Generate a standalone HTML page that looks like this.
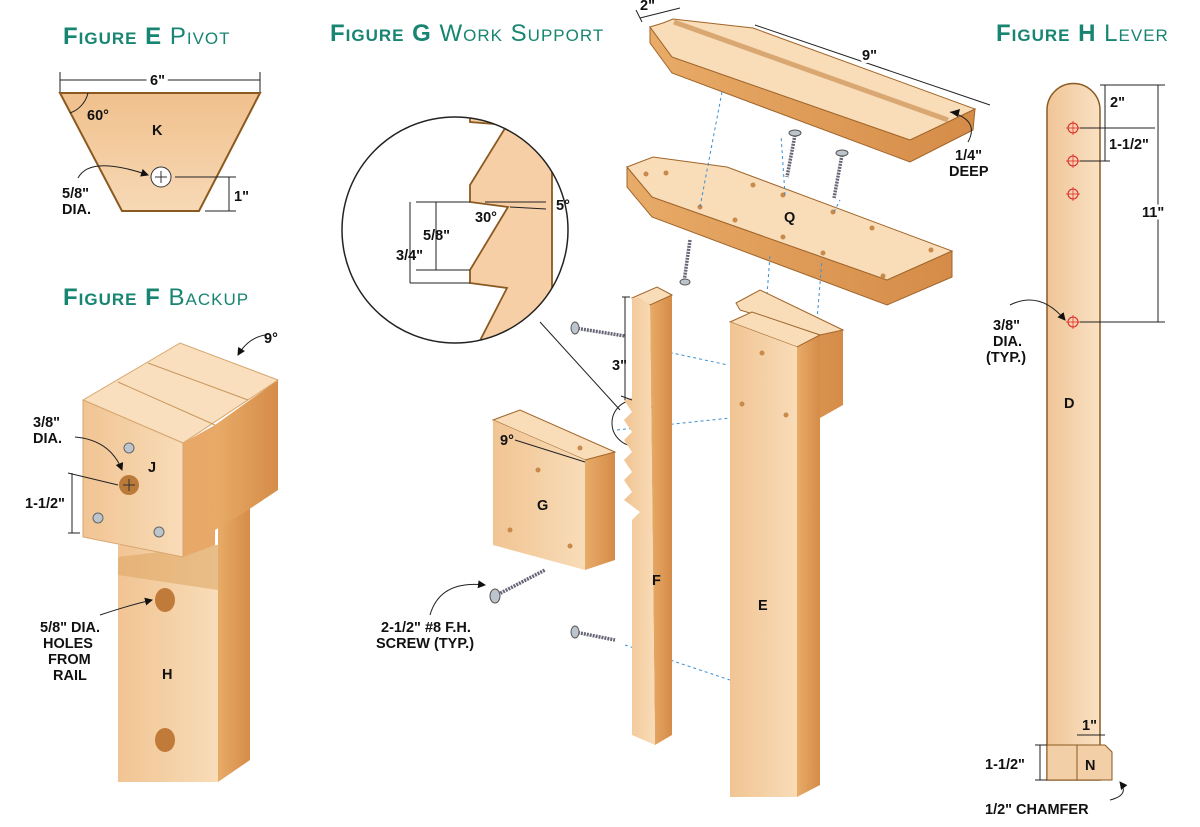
<!DOCTYPE html>
<html><head><meta charset="utf-8"><style>
body{margin:0;background:#fff;}
svg{display:block;font-family:"Liberation Sans",Arial,sans-serif;}
.t{fill:#178572;font-size:24px;font-variant:small-caps;letter-spacing:1px;}
.lb{font-weight:bold;font-size:14.5px;fill:#111;}
.dim{stroke:#222;stroke-width:1;fill:none;}
.bl{stroke:#3a8fd0;stroke-width:1;stroke-dasharray:3,3;fill:none;}
.w{stroke:#a0652a;stroke-width:1;}
</style></head><body>
<svg width="1200" height="827" viewBox="0 0 1200 827">
<defs>
<linearGradient id="fr" x1="0" x2="1"><stop offset="0" stop-color="#f1c493"/><stop offset="1" stop-color="#f8dcb8"/></linearGradient>
<linearGradient id="sd" x1="0" x2="1"><stop offset="0" stop-color="#e8ab68"/><stop offset="1" stop-color="#d58c48"/></linearGradient>
<linearGradient id="lv" x1="0" x2="1"><stop offset="0" stop-color="#f0c597"/><stop offset="1" stop-color="#f9e1c3"/></linearGradient>
<linearGradient id="kk" x1="0" y1="0" x2="0" y2="1"><stop offset="0" stop-color="#f0c08c"/><stop offset="1" stop-color="#f7d9b6"/></linearGradient>
<clipPath id="cc"><circle cx="455" cy="230" r="113"/></clipPath>
<marker id="ar" markerWidth="8" markerHeight="8" refX="7" refY="4" orient="auto"><path d="M0,0 L8,4 L0,8 z" fill="#111"/></marker>
</defs>
<!-- Titles -->
<text x="63" y="44" class="t"><tspan font-weight="bold">Figure E</tspan> Pivot</text>
<text x="63" y="305" class="t"><tspan font-weight="bold">Figure F</tspan> Backup</text>
<text x="330" y="41" class="t"><tspan font-weight="bold">Figure G</tspan> Work Support</text>
<text x="996" y="41" class="t"><tspan font-weight="bold">Figure H</tspan> Lever</text>

<!-- Figure E -->
<line x1="60" y1="80" x2="260" y2="80" class="dim"/><line x1="60" y1="72" x2="60" y2="92" class="dim"/><line x1="260" y1="72" x2="260" y2="92" class="dim"/>
<text x="150" y="85" class="lb" style="paint-order:stroke;stroke:#fff;stroke-width:8">6"</text>
<polygon points="60,93 260,93 199,211 122,211" fill="url(#kk)" stroke="#8a5a20" stroke-width="2"/>
<path d="M88,93 A28,28 0 0 1 70,113" class="dim"/>
<text x="87" y="120" class="lb">60°</text>
<text x="152" y="135" class="lb" font-size="16">K</text>
<circle cx="161" cy="177" r="10" fill="#fff" stroke="#333"/>
<path d="M155,177h12M161,171v12" stroke="#333"/>
<line x1="175" y1="177" x2="236" y2="177" class="dim"/><line x1="205" y1="211" x2="236" y2="211" class="dim"/><line x1="229" y1="177" x2="229" y2="211" class="dim"/>
<text x="234" y="201" class="lb">1"</text>
<path d="M78,178 Q90,155 148,175" class="dim" stroke-width="2" marker-end="url(#ar)"/>
<text x="62" y="198" class="lb">5/8"</text><text x="62" y="214" class="lb">DIA.</text>

<!-- Figure F -->
<polygon points="218,520 250,500 250,760 218,782" fill="url(#sd)"/>
<rect x="118" y="545" width="100" height="237" fill="url(#fr)"/>
<polygon points="118,557 218,545 218,590 118,575" fill="#e0a868" opacity=".6"/>
<ellipse cx="165" cy="600" rx="10" ry="12" fill="#c07a3a"/>
<ellipse cx="165" cy="740" rx="10" ry="12" fill="#c07a3a"/>
<text x="162" y="679" class="lb">H</text>
<polygon points="215,425 278,380 278,490 248,510 215,530" fill="url(#sd)"/>
<polygon points="183,443 215,425 215,545 183,557" fill="#e8a968"/>
<polygon points="83,400 180,343 278,380 183,443" fill="#f9dfbd" stroke="#d8a670"/>
<line x1="118" y1="382" x2="215" y2="425" stroke="#c9955c"/><line x1="148" y1="363" x2="248" y2="400" stroke="#c9955c"/>
<polygon points="83,400 183,443 183,557 83,537" fill="url(#fr)" stroke="#d8a670"/>
<text x="148" y="472" class="lb" font-size="16">J</text>
<circle cx="129" cy="485" r="10" fill="#b97a3a"/><path d="M123,485h12M129,479v12" stroke="#333"/>
<circle cx="129" cy="448" r="5" fill="#bcc4cc" stroke="#666"/><circle cx="98" cy="518" r="5" fill="#bcc4cc" stroke="#666"/><circle cx="159" cy="532" r="5" fill="#bcc4cc" stroke="#666"/>
<path d="M75,437 Q110,440 122,470" class="dim" stroke-width="2" marker-end="url(#ar)"/>
<text x="33" y="427" class="lb">3/8"</text><text x="33" y="443" class="lb">DIA.</text>
<line x1="68" y1="473" x2="118" y2="485" class="dim"/><line x1="68" y1="533" x2="80" y2="533" class="dim"/><line x1="72" y1="473" x2="72" y2="533" class="dim"/>
<text x="25" y="508" class="lb">1-1/2"</text>
<path d="M265,335 Q248,338 238,355" class="dim" stroke-width="2" marker-end="url(#ar)"/>
<text x="264" y="343" class="lb">9°</text>
<path d="M100,615 Q130,605 152,600" class="dim" stroke-width="2" marker-end="url(#ar)"/>
<text x="40" y="632" class="lb">5/8" DIA.</text><text x="43" y="648" class="lb">HOLES</text><text x="48" y="664" class="lb">FROM</text><text x="53" y="680" class="lb">RAIL</text>

<!-- Figure G circle -->
<circle cx="455" cy="230" r="113" fill="#fff"/>
<g clip-path="url(#cc)">
<polygon points="470,100 470,122 507,125 470,185 470,202 508,207 470,270 470,283 507,288 470,360 600,360 600,100" fill="#f6cfa7"/>
<polygon points="552,100 600,100 600,360 552,360" fill="#fff"/>
<path d="M470,100 L470,122 507,125 470,185 470,202 508,207 470,270 470,283 507,288 470,360 M552,100 V360" fill="none" stroke="#8a5a20" stroke-width="1.8"/>
</g>
<circle cx="455" cy="230" r="113" fill="none" stroke="#222" stroke-width="1.5"/>
<line x1="540" y1="322" x2="620" y2="410" class="dim"/>
<circle cx="635" cy="423" r="23" fill="none" stroke="#222"/>
<line x1="416" y1="202" x2="470" y2="202" class="dim"/><line x1="416" y1="270" x2="470" y2="270" class="dim"/><line x1="436" y1="202" x2="436" y2="270" class="dim"/>
<line x1="410" y1="202" x2="410" y2="283" class="dim"/><line x1="410" y1="283" x2="470" y2="283" class="dim"/>
<text x="423" y="240" class="lb">5/8"</text><text x="396" y="260" class="lb">3/4"</text>
<text x="475" y="222" class="lb">30°</text><text x="556" y="210" class="lb">5°</text>
<line x1="485" y1="202" x2="546" y2="202" class="dim"/><line x1="510" y1="207" x2="546" y2="209" class="dim"/>

<!-- top board -->
<polygon points="650,27 672,57 910,140 975,109 973,130 910,162 672,73 650,43" fill="url(#sd)" class="w"/>
<polygon points="650,27 663,23 673,19 753,28 975,109 910,140 672,57" fill="#f9dcb8" class="w"/>
<line x1="674" y1="22" x2="948" y2="120" stroke="#d9a872" stroke-width="5"/>
<line x1="640" y1="18" x2="680" y2="8" class="dim"/><line x1="636" y1="10" x2="642" y2="22" class="dim"/><text x="640" y="10" class="lb">2"</text>
<line x1="755" y1="25" x2="990" y2="105" class="dim"/><text x="862" y="60" class="lb" style="paint-order:stroke;stroke:#fff;stroke-width:6">9"</text>
<path d="M950,112 Q980,120 968,142" class="dim" stroke-width="2"/><path d="M950,112 l10,-3 l-2,8z" fill="#111"/>
<text x="955" y="160" class="lb">1/4"</text><text x="949" y="176" class="lb">DEEP</text>
<!-- Q board -->
<polygon points="627,167 652,197 887,280 952,251 952,277 887,305 652,217 627,187" fill="url(#sd)" class="w"/>
<polygon points="627,167 653,157 727,167 952,251 887,280 652,197" fill="#f9dcb8" class="w"/>
<text x="784" y="222" class="lb" font-size="16">Q</text>
<g fill="#c9894a"><circle cx="666" cy="173" r="2.5"/><circle cx="646" cy="174" r="2.5"/><circle cx="700" cy="207" r="2.5"/><circle cx="753" cy="185" r="2.5"/><circle cx="783" cy="195" r="2.5"/><circle cx="735" cy="220" r="2.5"/><circle cx="783" cy="237" r="2.5"/><circle cx="833" cy="212" r="2.5"/><circle cx="823" cy="253" r="2.5"/><circle cx="872" cy="228" r="2.5"/><circle cx="931" cy="250" r="2.5"/><circle cx="883" cy="276" r="2.5"/></g>
<!-- screws -->
<g stroke="#667" stroke-width="3.5" stroke-dasharray="2,1"><line x1="795" y1="135" x2="787" y2="177"/><line x1="842" y1="155" x2="834" y2="198"/><line x1="690" y1="240" x2="684" y2="282"/><line x1="575" y1="328" x2="625" y2="336"/><line x1="575" y1="632" x2="615" y2="640"/><line x1="495" y1="596" x2="545" y2="570"/></g>
<g fill="#bcc4cc" stroke="#555"><ellipse cx="795" cy="133" rx="6" ry="3"/><ellipse cx="842" cy="153" rx="6" ry="3"/><ellipse cx="685" cy="282" rx="5" ry="3"/><ellipse cx="575" cy="328" rx="4" ry="6"/><ellipse cx="575" cy="632" rx="4" ry="6"/><ellipse cx="495" cy="596" rx="5" ry="7"/></g>
<!-- dashed -->
<path d="M722,92 L700,207 M785,195 L781,135 M834,212 L840,200 M767,295 L770,255 M817,320 L822,260 M658,350 L728,365 M617,430 L787,412 M600,532 L572,545 M625,645 L730,680" class="bl"/>
<!-- E post back block -->
<polygon points="736,303 760,290 843,330 843,405 820,418 820,335" fill="url(#sd)"/>
<polygon points="736,303 760,290 843,330 820,335 740,310" fill="#f9dcb8" class="w"/>
<!-- E post -->
<polygon points="797,347 820,335 820,785 797,797" fill="url(#sd)"/>
<polygon points="730,322 752,312 820,335 797,347" fill="#f9dcb8" class="w"/>
<polygon points="730,322 797,347 797,797 730,797" fill="url(#fr)"/>
<g fill="#c9894a"><circle cx="762" cy="353" r="2.5"/><circle cx="742" cy="404" r="2.5"/><circle cx="786" cy="415" r="2.5"/></g>
<text x="758" y="610" class="lb">E</text>
<!-- F slat -->
<polygon points="650,305 672,295 672,735 655,745" fill="url(#sd)"/>
<polygon points="632,298 657,287 672,295 650,305" fill="#f9dcb8" class="w"/>
<polygon points="640,298 650,305 655,745 632,735 632,520 640,512 624,500 632,492 624,480 632,472 624,460 632,452 624,440 632,432 624,420 632,412 624,400 632,398 632,298" fill="url(#fr)"/>
<text x="652" y="585" class="lb">F</text>
<line x1="630" y1="297" x2="622" y2="297" class="dim"/><line x1="625" y1="297" x2="625" y2="400" class="dim"/><line x1="621" y1="396" x2="632" y2="400" class="dim"/>
<text x="612" y="370" class="lb">3"</text>
<!-- G block -->
<polygon points="585,460 615,452 615,560 585,570" fill="url(#sd)"/>
<polygon points="493,420 520,410 615,452 585,460" fill="#f9dcb8" class="w"/>
<polygon points="493,420 585,460 585,570 493,545" fill="url(#fr)"/>
<g fill="#c9894a"><circle cx="580" cy="448" r="2.5"/><circle cx="538" cy="470" r="2.5"/><circle cx="570" cy="546" r="2.5"/><circle cx="510" cy="530" r="2.5"/></g>
<text x="537" y="510" class="lb">G</text><text x="500" y="445" class="lb">9°</text>
<line x1="515" y1="440" x2="585" y2="462" class="dim"/>
<path d="M430,615 Q440,580 485,585" class="dim" stroke-width="2" marker-end="url(#ar)"/>
<text x="381" y="632" class="lb">2-1/2" #8 F.H.</text><text x="376" y="648" class="lb">SCREW (TYP.)</text>

<!-- Figure H -->
<path d="M1047,780 V110 A26,26 0 0 1 1100,110 V780 Z" fill="url(#lv)" stroke="#8a5a20" stroke-width="1.5"/>
<path d="M1047,745 H1105 L1112,752 V780 H1047 Z" fill="#f3cfa8" stroke="#8a5a20"/>
<line x1="1077" y1="745" x2="1077" y2="780" stroke="#8a5a20"/>
<text x="1085" y="770" class="lb">N</text>
<text x="1064" y="408" class="lb">D</text>
<g stroke="#d22" fill="none"><circle cx="1073" cy="128" r="5"/><circle cx="1073" cy="161" r="5"/><circle cx="1073" cy="194" r="5"/><circle cx="1073" cy="322" r="5"/><path d="M1066,128h14M1073,121v14M1066,161h14M1073,154v14M1066,194h14M1073,187v14M1066,322h14M1073,315v14" stroke-width=".7"/></g>
<line x1="1100" y1="85" x2="1165" y2="85" class="dim"/><line x1="1080" y1="128" x2="1155" y2="128" class="dim"/><line x1="1080" y1="161" x2="1110" y2="161" class="dim"/><line x1="1080" y1="322" x2="1165" y2="322" class="dim"/>
<line x1="1105" y1="85" x2="1105" y2="161" class="dim"/><line x1="1158" y1="85" x2="1158" y2="322" class="dim"/>
<text x="1110" y="107" class="lb">2"</text><text x="1109" y="149" class="lb">1-1/2"</text><text x="1142" y="217" class="lb" style="paint-order:stroke;stroke:#fff;stroke-width:5">11"</text>
<path d="M1010,305 Q1040,290 1065,320" class="dim" stroke-width="2" marker-end="url(#ar)"/>
<text x="993" y="330" class="lb">3/8"</text><text x="993" y="346" class="lb">DIA.</text><text x="986" y="362" class="lb">(TYP.)</text>
<text x="1082" y="730" class="lb">1"</text><line x1="1077" y1="735" x2="1105" y2="735" class="dim"/>
<line x1="1035" y1="745" x2="1047" y2="745" class="dim"/><line x1="1035" y1="780" x2="1047" y2="780" class="dim"/><line x1="1040" y1="745" x2="1040" y2="780" class="dim"/>
<text x="985" y="769" class="lb">1-1/2"</text>
<path d="M1110,800 Q1130,795 1120,782" class="dim" stroke-width="2" marker-end="url(#ar)"/>
<text x="985" y="814" class="lb">1/2" CHAMFER</text>
</svg>
</body></html>
